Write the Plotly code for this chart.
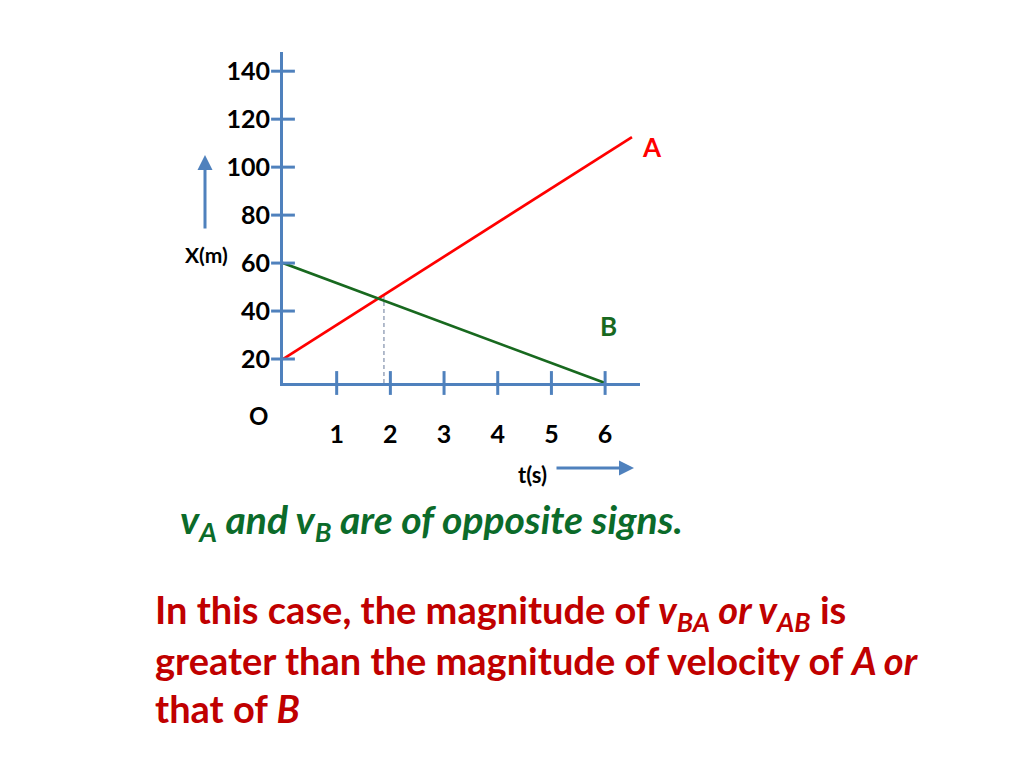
import plotly.graph_objects as go

# ---- data ----
t_A = [0, 6.5]
x_A = [20, 112.5]
t_B = [0, 6]
x_B = [60, 10]
y_ticks = [20, 40, 60, 80, 100, 120, 140]
y_tick_text = ["20", "40", "60", "80", "100", "120", "140"]
t_ticks = [1, 2, 3, 4, 5, 6]
t_tick_text = ["1", "2", "3", "4", "5", "6"]
t_cross = [1.88]           # time of the dashed drop line
x_cross = [46.7]           # position where A and B meet
x_range = [0, 6.65]
y_range = [10, 148]
stub_level = [-0.9]        # faint marks under the time ticks

AXIS = "#4F81BD"
RED = "#FF0000"
GREEN = "#18691F"
TEXT_GREEN = "#0B6B2A"
TEXT_RED = "#C00000"
FONT = "Lato"

# plot area in page pixels (for placing free text)
L, R, T, B = 283, 640, 52, 383
OFF = 8                     # default page body margin
FW, FH = 1024 - OFF, 768 - OFF


def px(x):
    return (x - L) / (R - L)


def py(y):
    return (B - y) / (B - T)


fig = go.Figure()

# dashed drop line from the crossing point to the time axis
fig.add_trace(go.Scatter(
    x=[t_cross[0], t_cross[0]], y=[x_cross[0], y_range[0]], mode="lines",
    line=dict(color="#9AA6BC", width=1.5, dash="4px,3px"), hoverinfo="skip"))

# lines A and B
fig.add_trace(go.Scatter(x=t_A, y=x_A, mode="lines",
                         line=dict(color=RED, width=2.7), hoverinfo="skip"))
fig.add_trace(go.Scatter(x=t_B, y=x_B, mode="lines",
                         line=dict(color=GREEN, width=2.7), hoverinfo="skip"))

# crossing tick marks on the axes
fig.add_trace(go.Scatter(
    x=[0] * len(y_ticks), y=y_ticks, mode="markers", cliponaxis=False,
    marker=dict(symbol="line-ew", size=17, line=dict(color=AXIS, width=3)),
    hoverinfo="skip"))
fig.add_trace(go.Scatter(
    x=t_ticks, y=[y_range[0]] * len(t_ticks), mode="markers", cliponaxis=False,
    marker=dict(symbol="line-ns", size=17, line=dict(color=AXIS, width=3)),
    hoverinfo="skip"))
# faint stubs under the time ticks
fig.add_trace(go.Scatter(
    x=t_ticks, y=stub_level * len(t_ticks), mode="markers", cliponaxis=False,
    marker=dict(symbol="line-ew", size=4, line=dict(color="#A9BCD8", width=1)),
    hoverinfo="skip"))

fig.update_layout(
    width=FW, height=FH, showlegend=False,
    paper_bgcolor="white", plot_bgcolor="white",
    margin=dict(l=L - OFF, r=FW - (R - OFF), t=T - OFF, b=FH - (B - OFF), pad=0),
    font=dict(family=FONT, color="black"),
    xaxis=dict(range=x_range, showgrid=False, zeroline=False,
               showline=True, linecolor=AXIS, linewidth=3,
               tickmode="array", tickvals=t_ticks, ticktext=t_tick_text,
               ticks="", ticklabelstandoff=27,
               tickfont=dict(family=FONT, size=25, color="black", weight="bold")),
    yaxis=dict(range=y_range, showgrid=False, zeroline=False,
               showline=True, linecolor=AXIS, linewidth=3,
               tickmode="array", tickvals=y_ticks, ticktext=y_tick_text,
               ticks="", ticklabelstandoff=5,
               tickfont=dict(family=FONT, size=25, color="black", weight="bold")),
)


def label(x, y, text, size, color="black", xanchor="center"):
    return dict(x=px(x), y=py(y), xref="paper", yref="paper", text=text,
                showarrow=False, xanchor=xanchor, yanchor="middle",
                font=dict(family=FONT, size=size, color=color))


ann = [
    label(206, 254, "<b>X(m)</b>", 21),
    label(258, 415, "<b>O</b>", 24),
    label(532, 474, "<b>t(s)</b>", 22),
    label(652, 147, "<b>A</b>", 26, RED),
    label(608, 326, "<b>B</b>", 26, GREEN),
]

# arrows
ann.append(dict(x=px(205), y=py(155), ax=0, ay=75, xref="paper", yref="paper",
                text="", showarrow=True,
                arrowhead=2, arrowsize=1, arrowwidth=3, arrowcolor=AXIS))
ann.append(dict(x=px(634), y=py(468), ax=-79, ay=0, xref="paper", yref="paper",
                text="", showarrow=True,
                arrowhead=2, arrowsize=1, arrowwidth=3, arrowcolor=AXIS))

# slide text
ann.append(label(178, 522,
                 "<b><i>v<sub>A</sub> and v<sub>B</sub> are of opposite signs.</i></b>",
                 39, TEXT_GREEN, "left"))
lines = [
    "<b>In this case, the magnitude of <i>v<sub>BA</sub> or v<sub>AB</sub></i> is</b>",
    "<b>greater than the magnitude of velocity of <i>A or</i></b>",
    "<b>that of <i>B</i></b>",
]
for i, s in enumerate(lines):
    ann.append(label(153, 612 + 48 * i, s, 38, TEXT_RED, "left"))

fig.update_layout(annotations=ann)

fig.write_html("out.html")
